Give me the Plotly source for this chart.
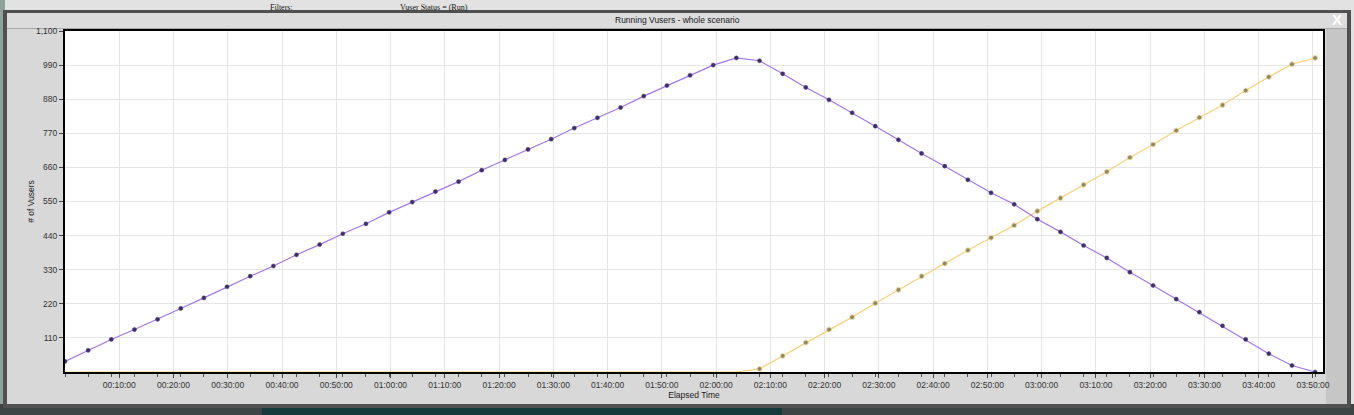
import plotly.graph_objects as go

# ---------------- data ----------------
elapsed_seconds = [0, 256, 512, 768, 1024, 1280, 1536, 1792, 2048, 2304,
                   2560, 2816, 3072, 3328, 3584, 3840, 4096, 4352, 4608, 4864,
                   5120, 5376, 5632, 5888, 6144, 6400, 6656, 6912, 7168, 7424,
                   7680, 7936, 8192, 8448, 8704, 8960, 9216, 9472, 9728, 9984,
                   10240, 10496, 10752, 11008, 11264, 11520, 11776, 12032, 12288, 12544,
                   12800, 13056, 13312, 13568, 13824]

vusers_purple = [34, 70, 105, 137, 170, 205, 239, 275, 309, 342,
                 378, 411, 446, 478, 515, 548, 582, 614, 651, 684,
                 718, 751, 787, 820, 853, 890, 924, 957, 990, 1013,
                 1004, 962, 918, 878, 836, 793, 749, 705, 664, 620,
                 578, 541, 493, 452, 408, 368, 322, 279, 235, 193,
                 149, 105, 59, 21, 0]

vusers_orange = [0, 0, 0, 0, 0, 0, 0, 0, 0, 0,
                 0, 0, 0, 0, 0, 0, 0, 0, 0, 0,
                 0, 0, 0, 0, 0, 0, 0, 0, 0, 0,
                 10, 52, 95, 137, 177, 222, 265, 309, 350, 393,
                 433, 473, 519, 561, 604, 646, 692, 734, 779, 821,
                 861, 908, 952, 993, 1013]

x_tick_values = [600, 1200, 1800, 2400, 3000, 3600, 4200, 4800, 5400, 6000,
                 6600, 7200, 7800, 8400, 9000, 9600, 10200, 10800, 11400, 12000,
                 12600, 13200, 13800]
x_tick_labels = ["00:10:00", "00:20:00", "00:30:00", "00:40:00", "00:50:00",
                 "01:00:00", "01:10:00", "01:20:00", "01:30:00", "01:40:00",
                 "01:50:00", "02:00:00", "02:10:00", "02:20:00", "02:30:00",
                 "02:40:00", "02:50:00", "03:00:00", "03:10:00", "03:20:00",
                 "03:30:00", "03:40:00", "03:50:00"]
y_tick_values = [110, 220, 330, 440, 550, 660, 770, 880, 990, 1100]
y_tick_labels = ["110", "220", "330", "440", "550", "660", "770", "880", "990", "1,100"]

# ---------------- geometry helpers (pixel -> paper) ----------------
FIG_W, FIG_H = 1354, 415
L, R, T, B = 65, 1323, 31, 372
PW, PH = R - L, B - T


def px(x):
    return (x - L) / PW


def py(y):
    return (B - y) / PH


FONT = "Liberation Sans, Arial, sans-serif"

fig = go.Figure()

orange_marker_sizes = [5 if v > 0 else 0 for v in vusers_orange]

fig.add_trace(go.Scatter(
    x=elapsed_seconds, y=vusers_orange, mode="lines+markers",
    name="Run (group 2)",
    line=dict(color="#f7d27a", width=1.2),
    marker=dict(size=orange_marker_sizes, color="#6b5e38",
                line=dict(color="#e9d58c", width=1)),
    cliponaxis=True,
))
fig.add_trace(go.Scatter(
    x=elapsed_seconds, y=vusers_purple, mode="lines+markers",
    name="Run (group 1)",
    line=dict(color="#a276ec", width=1.2),
    marker=dict(size=4.2, color="#3d2f66", line=dict(color="#5a4a8a", width=0.5)),
    cliponaxis=True,
))

# ---------------- window frame (screenshot chrome) ----------------
shapes = []


def rect(x0, y0, x1, y1, color, layer="below"):
    shapes.append(dict(type="rect", xref="paper", yref="paper",
                       x0=px(x0), x1=px(x1), y0=py(y1), y1=py(y0),
                       fillcolor=color, line=dict(width=0), layer=layer))


rect(0, 0, FIG_W, FIG_H, "#e2e2e2")           # page behind
rect(0, 0, 5, FIG_H, "#8fa39b")                # page at left edge
rect(0, 404, FIG_W, FIG_H, "#3d4544")          # page strip at bottom
rect(262, 405, 782, FIG_H, "#143c3a")
rect(3, 10, 1351, 408, "#505050")              # window outer border
rect(7, 13, 1347, 404, "#d8d8d8")              # window body
rect(7, 13, 1347, 28, "#dcdcdc")               # title band
rect(7, 28, 1347, 29, "#a8a8a8")
rect(1326, 29, 1347, 404, "#c6c6c6")           # right darker strip
rect(L, T, R, B, "#ffffff")                    # plot area

fig.update_layout(shapes=shapes)

annotations = [
    dict(text="Running Vusers - whole scenario", xref="paper", yref="paper",
         x=px(677), y=py(19.5), xanchor="center", yanchor="middle", showarrow=False,
         font=dict(family=FONT, size=8.5, color="#1a1a1a")),
    dict(text="<b>X</b>", xref="paper", yref="paper",
         x=px(1337), y=py(19), xanchor="center", yanchor="middle", showarrow=False,
         font=dict(family=FONT, size=15, color="#ffffff")),
    dict(text="Filters:", xref="paper", yref="paper",
         x=px(268), y=py(0.5), xanchor="left", yanchor="top", showarrow=False,
         font=dict(family="Liberation Serif, serif", size=8, color="#111111")),
    dict(text="Vuser Status = (Run)", xref="paper", yref="paper",
         x=px(398), y=py(0.5), xanchor="left", yanchor="top", showarrow=False,
         font=dict(family="Liberation Serif, serif", size=8, color="#111111")),
]
fig.update_layout(annotations=annotations)

fig.update_layout(
    width=FIG_W, height=FIG_H, autosize=False,
    margin=dict(l=L, r=FIG_W - R, t=T, b=FIG_H - B, pad=0),
    paper_bgcolor="#d8d8d8",
    plot_bgcolor="#ffffff",
    showlegend=False,
    font=dict(family=FONT, size=8.5, color="#333333"),
)

fig.update_xaxes(
    range=[0, 13911],
    tickmode="array", tickvals=x_tick_values, ticktext=x_tick_labels,
    ticks="outside", ticklen=4, tickcolor="#444444",
    tickfont=dict(family=FONT, size=8.5, color="#333333"),
    minor=dict(tickmode="linear", tick0=0, dtick=256, ticks="outside",
               ticklen=3, tickcolor="#555555", showgrid=False),
    showgrid=True, gridcolor="#e6e6e6", gridwidth=1,
    showline=True, linecolor="#000000", linewidth=2, mirror=True,
    zeroline=False,
    title=dict(text="Elapsed Time", font=dict(family=FONT, size=8.5, color="#1a1a1a"),
               standoff=2),
)
fig.update_yaxes(
    range=[0, 1100],
    tickmode="array", tickvals=y_tick_values, ticktext=y_tick_labels,
    ticks="outside", ticklen=4, tickcolor="#444444",
    tickfont=dict(family=FONT, size=8.5, color="#333333"),
    showgrid=True, gridcolor="#e6e6e6", gridwidth=1,
    showline=True, linecolor="#000000", linewidth=2, mirror=True,
    zeroline=False,
    title=dict(text="# of Vusers", font=dict(family=FONT, size=8.5, color="#1a1a1a"),
               standoff=0),
)

fig.write_html("out.html",
               config={"displayModeBar": False},
               post_script="document.body.style.margin='0';document.body.style.overflow='hidden';")
